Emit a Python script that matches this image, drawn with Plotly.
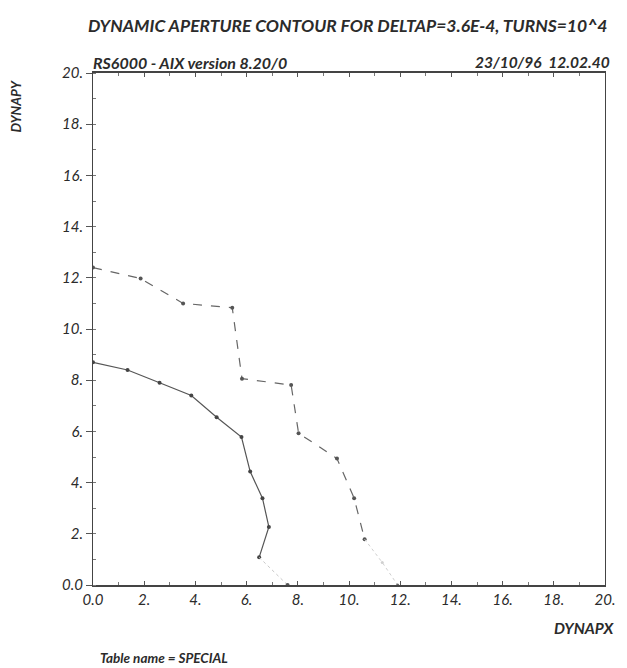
import plotly.graph_objects as go

# ---- data ----
solid_x = [0.0, 1.35, 2.6, 3.84, 4.83, 5.8, 6.14, 6.62, 6.87, 6.49, 7.6]
solid_y = [8.7, 8.4, 7.9, 7.4, 6.55, 5.78, 4.43, 3.39, 2.27, 1.08, 0.0]
dashed_x = [0.0, 1.86, 3.52, 5.44, 5.82, 7.74, 8.03, 9.53, 10.2, 10.61, 11.3, 11.9]
dashed_y = [12.4, 11.97, 11.0, 10.83, 8.06, 7.81, 5.93, 4.94, 3.39, 1.79, 0.88, 0.0]
solid_faint_from = 9     # index where the printed line fades out
dashed_faint_from = 9
tick_vals = [0, 2, 4, 6, 8, 10, 12, 14, 16, 18, 20]
tick_text = ["0.0", "2.", "4.", "6.", "8.", "10.", "12.", "14.", "16.", "18.", "20."]

title_text = "DYNAMIC APERTURE CONTOUR FOR DELTAP=3.6E-4, TURNS=10^4"
left_sub = "RS6000 - AIX version 8.20/0"
right_sub = "23/10/96  12.02.40"
x_title = "DYNAPX"
y_title = "DYNAPY"
footer = "Table name = SPECIAL"

FONT = "Lato"
TXT = "#2b2b2b"

fig = go.Figure()
fig.add_trace(go.Scatter(
    x=solid_x[:solid_faint_from + 1], y=solid_y[:solid_faint_from + 1],
    mode="lines+markers", line=dict(color="#555555", width=1.2),
    marker=dict(size=4, color="#444444"), showlegend=False))
fig.add_trace(go.Scatter(
    x=solid_x[solid_faint_from:], y=solid_y[solid_faint_from:],
    mode="lines+markers", line=dict(color="#c8c8c8", width=1, dash="dot"),
    marker=dict(size=4, color=["rgba(0,0,0,0)", "#555555"]), showlegend=False))
fig.add_trace(go.Scatter(
    x=dashed_x[:dashed_faint_from + 1], y=dashed_y[:dashed_faint_from + 1],
    mode="lines+markers", line=dict(color="#666666", width=1.2, dash="dash"),
    marker=dict(size=4, color="#555555"), showlegend=False))
fig.add_trace(go.Scatter(
    x=dashed_x[dashed_faint_from:], y=dashed_y[dashed_faint_from:],
    mode="lines+markers", line=dict(color="#d0d0d0", width=1, dash="dot"),
    marker=dict(size=3, color=["rgba(0,0,0,0)", "#d0d0d0", "#666666"]), showlegend=False))

axis_common = dict(
    range=[0, 20], tickvals=tick_vals, ticktext=tick_text,
    showgrid=False, zeroline=False, showline=True, linecolor="#444444",
    tickfont=dict(family=FONT, size=15, color=TXT, style="italic"),
    tickcolor="#555555",
)
fig.update_xaxes(**axis_common, linewidth=1.6, ticks="inside", ticklen=4, mirror="ticks",
                 minor=dict(dtick=1, ticks="inside", ticklen=3, tickcolor="#777777"))
fig.update_yaxes(**axis_common, linewidth=1, ticks="outside", ticklen=6, mirror=True,
                 minor=dict(dtick=1, ticks="inside", ticklen=3, tickcolor="#777777"))

# page body has an 8px margin, so figure coordinates = screen pixels - 8
OFF = 8
W, H = 627 - OFF, 668 - OFF
L, R, T, B = 93 - OFF, 615 - OFF, 73 - OFF, 585 - OFF

def px(xs): return (xs - OFF - L) / (R - L)
def py(ys): return (B - (ys - OFF)) / (B - T)

def ann(text, x, y, xanchor="center", yanchor="middle", size=14, angle=0):
    fig.add_annotation(text=f"<b><i>{text}</i></b>", x=px(x), y=py(y), xref="paper", yref="paper",
                       xanchor=xanchor, yanchor=yanchor, showarrow=False, textangle=angle,
                       font=dict(family=FONT, size=size, color=TXT))

ann(title_text, 352, 25, size=17.5)
ann(left_sub, 91, 62, xanchor="left", size=16)
ann(right_sub, 622, 62, xanchor="right", size=15.5)
ann(y_title, 15, 106, size=13.5, angle=-90)
ann(x_title, 626, 628, xanchor="right", size=15.5)
ann(footer, 98, 658, xanchor="left", size=13.5)

fig.update_layout(
    width=W, height=H, plot_bgcolor="white", paper_bgcolor="white",
    margin=dict(l=L, r=W - R, t=T, b=H - B, pad=0),
)
fig.write_html("out.html")
